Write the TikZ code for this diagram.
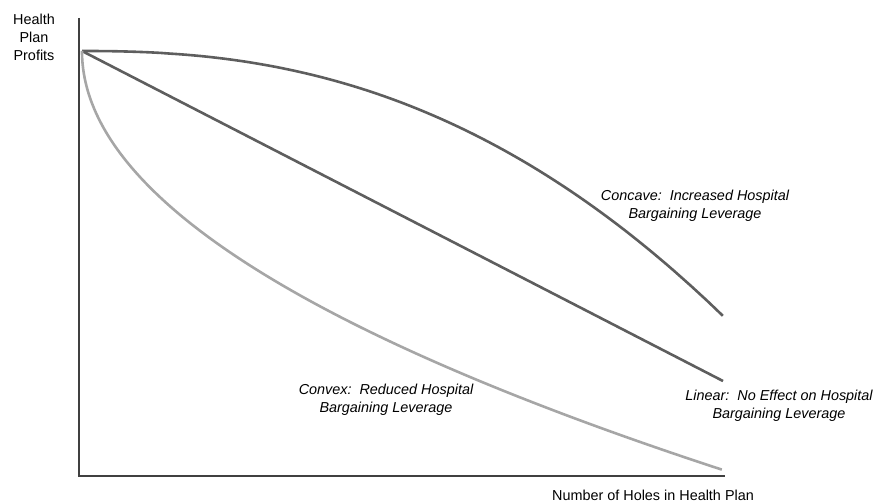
\documentclass[tikz,border=0pt]{standalone}
\usepackage{fontspec}
\setmainfont{Liberation Sans}
\frenchspacing
\begin{document}
\begin{tikzpicture}[x=1pt,y=-1pt,
  lbl/.style={font=\fontsize{14.4}{18}\selectfont, align=center, inner sep=0pt, text=black},
  lbli/.style={lbl, font=\fontsize{14.4}{18}\selectfont\itshape},
  axisline/.style={draw=black!75, line width=1.2pt},
  darkcurve/.style={draw=black!63, line width=2.6pt, line join=round},
  lightcurve/.style={draw=black!35, line width=2.6pt, line join=round}]
\useasboundingbox (0,0) rectangle (875,503);
\coordinate (top) at (79,18);
\coordinate (orig) at (79,476);
\coordinate (xend) at (725,476);
\coordinate (start) at (82,51);
\coordinate (linend) at (723,381);
% axes
\draw[axisline] (top) -- (orig) -- (xend);
% curves
\draw[darkcurve] (start) -- plot[domain=0.01:1, samples=80] ({82+641*\x},{51+265*(\x)^2.35});
\draw[darkcurve] (start) -- (linend);
\draw[lightcurve] (start) -- plot[domain=0.0004:1, samples=120] ({82+641*\x^2},{51+419*\x});
% labels
\node[lbl] (ylab) at (34,37) {Health\\Plan\\Profits};
\node[lbl] (xlab) at (653,495) {Number of Holes in Health Plan};
\node[lbli] (conc) at (695,206) {Concave:\ \ Increased Hospital\\Bargaining Leverage};
\node[lbli] (lin) at (779,406) {Linear:\ \ No Effect on Hospital\\Bargaining Leverage};
\node[lbli] (conv) at (386,400) {Convex:\ \ Reduced Hospital\\Bargaining Leverage};
\end{tikzpicture}
\end{document}
